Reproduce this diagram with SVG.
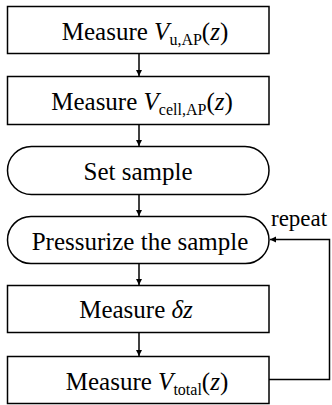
<svg xmlns="http://www.w3.org/2000/svg" width="332" height="405" viewBox="0 0 332 405">
<defs>
<marker id="ah" viewBox="0 0 10 10" refX="10" refY="5" markerWidth="6" markerHeight="7" markerUnits="userSpaceOnUse" orient="auto">
<path d="M0,0 L10,5 L0,10 z" fill="#000"/>
</marker>
</defs>
<style>
.box{fill:#fff;stroke:#000;stroke-width:1.5}
.t{font-family:"Liberation Serif","Times New Roman",serif;font-size:25px;fill:#000;text-anchor:middle}
.i{font-style:italic}
.s{font-size:16px}
.c{fill:none;stroke:#000;stroke-width:1.5}
.r{font-family:"Liberation Serif","Times New Roman",serif;font-size:23px;fill:#000}
</style>
<g id="n1"><rect class="box" x="7.5" y="6.5" width="261.5" height="47"/>
<text class="t" x="145" y="40">Measure <tspan class="i">V</tspan><tspan class="s" dy="5">u,AP</tspan><tspan dy="-5">(</tspan><tspan class="i">z</tspan>)</text></g>
<g id="n2"><rect class="box" x="7.5" y="76.5" width="261.5" height="48"/>
<text class="t" x="142" y="110">Measure <tspan class="i">V</tspan><tspan class="s" dy="5">cell,AP</tspan><tspan dy="-5">(</tspan><tspan class="i">z</tspan>)</text></g>
<g id="n3"><rect class="box" x="7.5" y="146.5" width="261.5" height="48" rx="24" ry="24"/>
<text class="t" x="138" y="180">Set sample</text></g>
<g id="n4"><rect class="box" x="7.5" y="216.5" width="261.5" height="47" rx="23.5" ry="23.5"/>
<text class="t" x="140" y="250">Pressurize the sample</text></g>
<g id="n5"><rect class="box" x="7.5" y="285.5" width="261.5" height="47"/>
<text class="t" x="136" y="318">Measure <tspan class="i">δz</tspan></text></g>
<g id="n6"><rect class="box" x="7.5" y="356.5" width="261.5" height="47"/>
<text class="t" x="147" y="390">Measure <tspan class="i">V</tspan><tspan class="s" dy="5">total</tspan><tspan dy="-5">(</tspan><tspan class="i">z</tspan>)</text></g>
<g id="connectors">
<line class="c" x1="139" y1="54" x2="139" y2="76" marker-end="url(#ah)"/>
<line class="c" x1="139" y1="125" x2="139" y2="146" marker-end="url(#ah)"/>
<line class="c" x1="139" y1="195" x2="139" y2="216" marker-end="url(#ah)"/>
<line class="c" x1="139" y1="264" x2="139" y2="285" marker-end="url(#ah)"/>
<line class="c" x1="139" y1="333" x2="139" y2="356" marker-end="url(#ah)"/>
<polyline class="c" points="269,379.5 329.5,379.5 329.5,239.5 270,239.5" marker-end="url(#ah)"/>
<text class="r" x="271" y="226">repeat</text>
</g>
</svg>
